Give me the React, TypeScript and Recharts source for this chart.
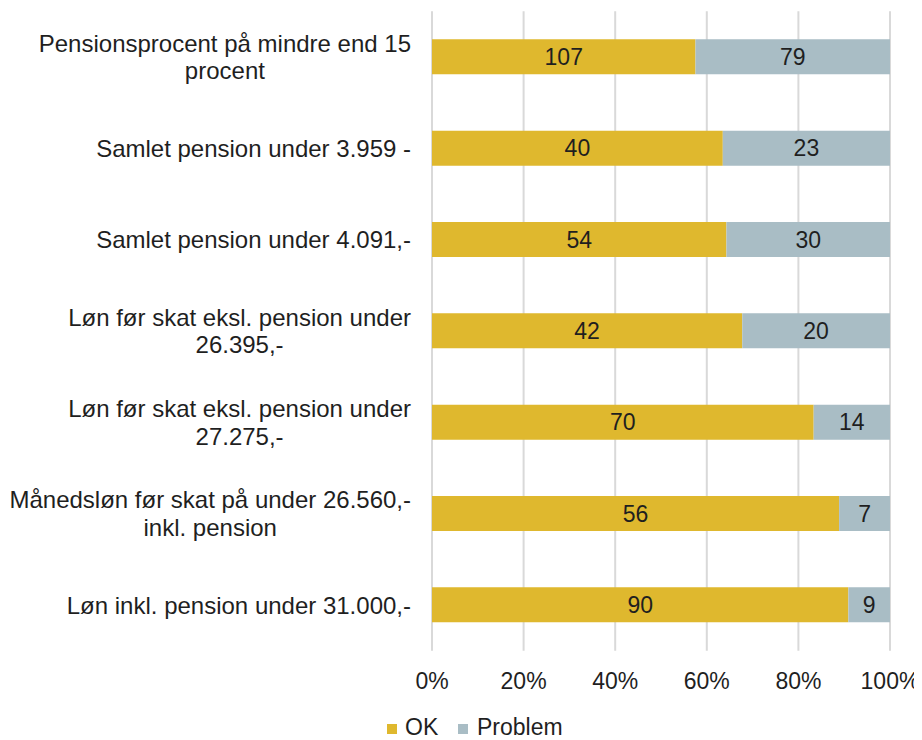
import React from 'react';
import { BarChart, Bar, XAxis, YAxis, CartesianGrid, LabelList, Legend } from 'recharts';

const categories = [
  'Pensionsprocent på mindre end 15\nprocent',
  'Samlet pension under 3.959 -',
  'Samlet pension under 4.091,-',
  'Løn før skat eksl. pension under\n26.395,-',
  'Løn før skat eksl. pension under\n27.275,-',
  'Månedsløn før skat på under 26.560,-\ninkl. pension',
  'Løn inkl. pension under 31.000,-',
];
const okValues = [107, 40, 54, 42, 70, 56, 90];
const problemValues = [79, 23, 30, 20, 14, 7, 9];
const xTicks = [0, 0.2, 0.4, 0.6, 0.8, 1];
const xTickLabels = ['0%', '20%', '40%', '60%', '80%', '100%'];
const seriesNames = ['OK', 'Problem'];

const OK_COLOR = '#DFB82E';
const PROBLEM_COLOR = '#A9BDC5';
const TEXT_COLOR = '#1f1f1f';
const FONT = '"Liberation Sans", Arial, sans-serif';
const Y_FONT = 24;
const FS = 23;

const data = categories.map((c, i) => ({ name: c, ok: okValues[i], problem: problemValues[i] }));

let ctx: CanvasRenderingContext2D | null = null;
const measure = (t: string, font: string) => {
  if (!ctx) ctx = document.createElement('canvas').getContext('2d');
  if (!ctx) return t.length * 12;
  ctx.font = font;
  return ctx.measureText(t).width;
};

const YTick = (props: any) => {
  const { x, y, payload } = props;
  const lines = String(payload.value).split('\n');
  const font = `${Y_FONT}px "Liberation Sans"`;
  const maxW = Math.max(...lines.map((l) => measure(l, font)));
  const cx = x - 21 - maxW / 2;
  const lh = 27.6;
  const startY = y - ((lines.length - 1) * lh) / 2 + Y_FONT * 0.355;
  return (
    <text textAnchor="middle" fontFamily={FONT} fontSize={Y_FONT} fill={TEXT_COLOR}>
      {lines.map((l, i) => (
        <tspan key={i} x={cx} y={startY + i * lh}>
          {l}
        </tspan>
      ))}
    </text>
  );
};

const XTick = (props: any) => {
  const { x, y, payload } = props;
  const idx = xTicks.indexOf(payload.value);
  return (
    <text x={x} y={y + 38.3} textAnchor="middle" fontFamily={FONT} fontSize={FS} fill={TEXT_COLOR}>
      {idx >= 0 ? xTickLabels[idx] : payload.value}
    </text>
  );
};

const LegendContent = () => (
  <svg width={914} height={40} style={{ display: 'block', overflow: 'visible' }}>
    <rect x={379} y={24} width={10} height={10} fill={OK_COLOR} />
    <text x={397} y={34.5} fontFamily={FONT} fontSize={FS} fill={TEXT_COLOR}>
      {seriesNames[0]}
    </text>
    <rect x={450} y={24} width={10} height={10} fill={PROBLEM_COLOR} />
    <text x={469} y={34.5} fontFamily={FONT} fontSize={FS} fill={TEXT_COLOR}>
      {seriesNames[1]}
    </text>
  </svg>
);

export default function App() {
  return (
    <div style={{ width: 914, height: 732, fontFamily: FONT }}>
      <BarChart
        width={914}
        height={732}
        data={data}
        layout="vertical"
        stackOffset="expand"
        margin={{ top: 3.3, right: 32, left: 0, bottom: 49.3 }}
      >
        <CartesianGrid horizontal={false} vertical={true} stroke="#d9d9d9" strokeWidth={2} />
        <XAxis
          type="number"
          domain={[0, 1]}
          ticks={xTicks}
          axisLine={false}
          tickLine={false}
          tickSize={0}
          tickMargin={0}
          height={40}
          tick={<XTick />}
          interval={0}
        />
        <YAxis
          type="category"
          dataKey="name"
          width={424}
          axisLine={false}
          tickLine={false}
          tickSize={0}
          tickMargin={0}
          tick={<YTick />}
          interval={0}
        />
        <Legend
          verticalAlign="middle"
          align="center"
          wrapperStyle={{ left: 0, top: 692, width: 914, height: 40 }}
          content={<LegendContent />}
        />
        <Bar dataKey="ok" name={seriesNames[0]} stackId="a" fill={OK_COLOR} barSize={35} isAnimationActive={false}>
          <LabelList dataKey="ok" position="center" fill={TEXT_COLOR} fontSize={FS} fontFamily={FONT} />
        </Bar>
        <Bar dataKey="problem" name={seriesNames[1]} stackId="a" fill={PROBLEM_COLOR} barSize={35} isAnimationActive={false}>
          <LabelList dataKey="problem" position="center" fill={TEXT_COLOR} fontSize={FS} fontFamily={FONT} />
        </Bar>
      </BarChart>
    </div>
  );
}
